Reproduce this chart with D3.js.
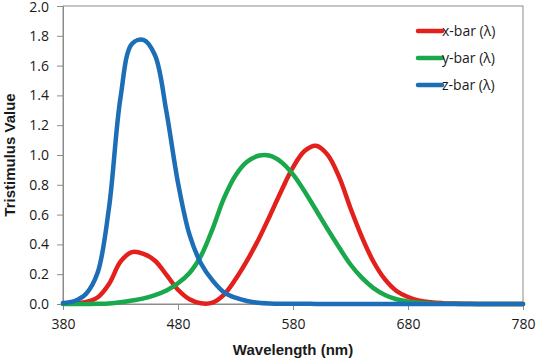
<!DOCTYPE html>
<html>
<head>
<meta charset="utf-8">
<script src="https://cdn.jsdelivr.net/npm/d3@7"></script>
<style>
  body { margin: 0; background: #fff; }
  text { font-family: "Liberation Sans", Arial, sans-serif; }
</style>
</head>
<body>
<div id="chart"></div>
<script>
// wavelengths (nm), 10 nm steps
var wavelengths = d3.range(380, 781, 10);

// colour matching functions
var xBar = [0.0014, 0.0042, 0.0143, 0.0435, 0.1344, 0.2839, 0.3483, 0.3362, 0.2908, 0.1954,
  0.0956, 0.0320, 0.0049, 0.0093, 0.0633, 0.1655, 0.2904, 0.4334, 0.5945, 0.7621,
  0.9163, 1.0263, 1.0622, 1.0026, 0.8544, 0.6424, 0.4479, 0.2835, 0.1649, 0.0874,
  0.0468, 0.0227, 0.0114, 0.0058, 0.0029, 0.0014, 0.0007, 0.0003, 0.0002, 0.0001, 0.0000];
var yBar = [0.0000, 0.0001, 0.0004, 0.0012, 0.0040, 0.0116, 0.0230, 0.0380, 0.0600, 0.0910,
  0.1390, 0.2080, 0.3230, 0.5030, 0.7100, 0.8620, 0.9540, 0.9950, 0.9950, 0.9520,
  0.8700, 0.7570, 0.6310, 0.5030, 0.3810, 0.2650, 0.1750, 0.1070, 0.0610, 0.0320,
  0.0170, 0.0082, 0.0041, 0.0021, 0.0010, 0.0005, 0.0002, 0.0001, 0.0001, 0.0000, 0.0000];
var zBar = [0.0065, 0.0201, 0.0679, 0.2074, 0.6456, 1.3856, 1.7471, 1.7721, 1.6692, 1.2876,
  0.8130, 0.4652, 0.2720, 0.1582, 0.0783, 0.0422, 0.0203, 0.0088, 0.0039, 0.0021,
  0.0017, 0.0011, 0.0008, 0.0003, 0.0002, 0.0000, 0.0000, 0.0000, 0.0000, 0.0000,
  0.0000, 0.0000, 0.0000, 0.0000, 0.0000, 0.0000, 0.0000, 0.0000, 0.0000, 0.0000, 0.0000];

var seriesNames = ["x-bar (\u03bb)", "y-bar (\u03bb)", "z-bar (\u03bb)"];
var seriesColors = ["#e3201c", "#19a84b", "#1c6eb7"];
var xTicks = [380, 480, 580, 680, 780];
var yTicks = d3.range(0, 2.01, 0.2);

var width = 540, height = 363;
var margin = {top: 6, right: 17, bottom: 59, left: 63};
var w = width - margin.left - margin.right,
    h = height - margin.top - margin.bottom;

var svg = d3.select("#chart").append("svg")
    .attr("width", width)
    .attr("height", height);

var g = svg.append("g")
    .attr("transform", "translate(" + margin.left + "," + margin.top + ")");

var x = d3.scaleLinear().domain([380, 780]).range([0, w]);
var y = d3.scaleLinear().domain([0, 2]).range([h, 0]);

// plot frame
g.append("rect")
  .attr("width", w).attr("height", h)
  .attr("fill", "none")
  .attr("stroke", "#8c8c8c")
  .attr("stroke-width", 1);

var xAxis = g.append("g")
  .attr("transform", "translate(0," + h + ")")
  .call(d3.axisBottom(x).tickValues(xTicks).tickSize(6).tickPadding(9).tickFormat(d3.format("d")));

var yAxis = g.append("g")
  .call(d3.axisLeft(y).tickValues(yTicks).tickSize(6).tickPadding(8).tickFormat(d3.format(".1f")));

[xAxis, yAxis].forEach(function(a) {
  a.select(".domain").attr("stroke", "#8c8c8c");
  a.selectAll(".tick line").attr("stroke", "#8c8c8c");
  a.selectAll(".tick text")
    .attr("fill", "#1a1a1a")
    .style("font-size", "14px")
    .style("font-family", "'Open Sans', 'Liberation Sans', sans-serif");
});
// keep the top label inside the picture
yAxis.selectAll(".tick text").filter(function(d) { return d > 1.99; }).attr("dy", "0.42em");

// curves
var data = [xBar, yBar, zBar];
var line = d3.line()
  .x(function(d, i) { return x(wavelengths[i]); })
  .y(function(d) { return y(d); })
  .curve(d3.curveCatmullRom.alpha(0.5));

g.selectAll(".curve")
  .data(data)
  .enter().append("path")
    .attr("class", "curve")
    .attr("d", line)
    .attr("fill", "none")
    .attr("stroke", function(d, i) { return seriesColors[i]; })
    .attr("stroke-width", 4.5)
    .attr("stroke-linejoin", "round")
    .attr("stroke-linecap", "round");

// legend
var legend = svg.append("g").attr("transform", "translate(418,31)");
seriesNames.forEach(function(name, i) {
  var row = legend.append("g").attr("transform", "translate(0," + (i * 27) + ")");
  row.append("line")
    .attr("x1", 0).attr("x2", 24)
    .attr("stroke", seriesColors[i])
    .attr("stroke-width", 4.5)
    .attr("stroke-linecap", "round");
  row.append("text")
    .attr("x", 24).attr("y", 5)
    .style("font-size", "14px")
    .style("font-family", "'Open Sans', 'Liberation Sans', sans-serif")
    .attr("fill", "#1a1a1a")
    .text(name);
});

// axis titles
svg.append("text")
  .attr("x", margin.left + w / 2)
  .attr("y", 355)
  .attr("text-anchor", "middle")
  .style("font-size", "15px")
  .style("font-weight", "bold")
  .attr("fill", "#1a1a1a")
  .text("Wavelength (nm)");

svg.append("text")
  .attr("transform", "translate(15," + (margin.top + h / 2) + ") rotate(-90)")
  .attr("text-anchor", "middle")
  .style("font-size", "15px")
  .style("font-weight", "bold")
  .attr("fill", "#1a1a1a")
  .text("Tristimulus Value");
</script>
</body>
</html>
